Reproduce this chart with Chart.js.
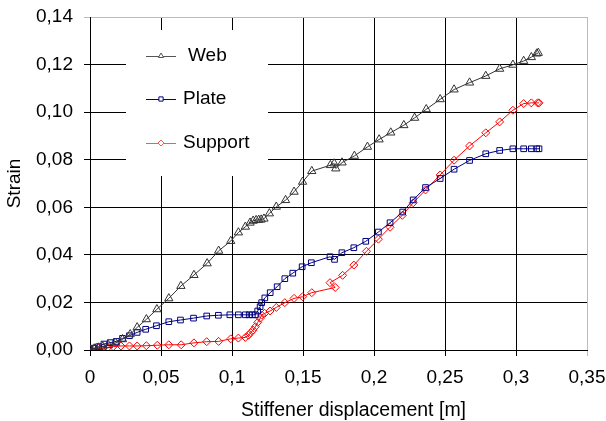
<!DOCTYPE html>
<html>
<head>
<meta charset="utf-8">
<script src="https://cdn.jsdelivr.net/npm/chart.js"></script>
<style>
html,body{margin:0;padding:0;background:#fff}
</style>
</head>
<body>
<canvas id="chart" width="606" height="421"></canvas>
<script>
// values
const webX = [0, 0.003, 0.006, 0.009, 0.013, 0.018, 0.0229, 0.0283, 0.0332, 0.0397, 0.0471, 0.0555, 0.064, 0.0732, 0.0825, 0.0906, 0.0991, 0.1045, 0.1094, 0.1127, 0.1149, 0.117, 0.1188, 0.1205, 0.1225, 0.1263, 0.1312, 0.1377, 0.1437, 0.1497, 0.1562, 0.1693, 0.172, 0.1731, 0.1775, 0.1862, 0.1954, 0.2036, 0.2118, 0.221, 0.2286, 0.2368, 0.2466, 0.2564, 0.2673, 0.2787, 0.2885, 0.2978, 0.3054, 0.3108, 0.3146, 0.3157]
const webY = [0.0003, 0.0006, 0.001, 0.0014, 0.002, 0.003, 0.0045, 0.0066, 0.0095, 0.0129, 0.0171, 0.0217, 0.0269, 0.0315, 0.0364, 0.0417, 0.0458, 0.0494, 0.0518, 0.0535, 0.0543, 0.0546, 0.0547, 0.0548, 0.0552, 0.0574, 0.0602, 0.063, 0.0665, 0.0707, 0.0752, 0.0777, 0.0784, 0.0763, 0.0788, 0.0816, 0.0854, 0.0885, 0.0914, 0.0945, 0.0976, 0.1012, 0.1054, 0.1095, 0.1124, 0.1152, 0.1182, 0.1199, 0.1215, 0.1231, 0.1246, 0.1249]

const plateX = [0, 0.003, 0.006, 0.0098, 0.0142, 0.0185, 0.0229, 0.0278, 0.0332, 0.0392, 0.0468, 0.0555, 0.0637, 0.0729, 0.0822, 0.0904, 0.0985, 0.1045, 0.1094, 0.1121, 0.1143, 0.1165, 0.1181, 0.1198, 0.1209, 0.1231, 0.1269, 0.1318, 0.1372, 0.1428, 0.1494, 0.1559, 0.169, 0.1722, 0.1774, 0.1858, 0.1942, 0.2031, 0.2113, 0.2202, 0.2276, 0.2363, 0.2466, 0.2564, 0.2673, 0.2787, 0.2885, 0.2978, 0.3054, 0.3108, 0.3146, 0.3162]
const plateY = [0.0004, 0.0008, 0.0014, 0.0025, 0.0031, 0.0036, 0.0049, 0.006, 0.0074, 0.0087, 0.0102, 0.0119, 0.0126, 0.0134, 0.0143, 0.0146, 0.0148, 0.0148, 0.0148, 0.0148, 0.0148, 0.0148, 0.0164, 0.0182, 0.0199, 0.0219, 0.0241, 0.0266, 0.03, 0.0323, 0.035, 0.0367, 0.0392, 0.0381, 0.0409, 0.043, 0.0457, 0.0496, 0.0535, 0.058, 0.0631, 0.0683, 0.0721, 0.076, 0.0797, 0.0825, 0.0839, 0.0846, 0.0846, 0.0846, 0.0846, 0.0846]

const supportX = [0, 0.003, 0.006, 0.009, 0.0125, 0.0163, 0.0218, 0.0278, 0.0332, 0.0397, 0.0474, 0.0555, 0.0642, 0.0732, 0.0822, 0.0906, 0.0991, 0.1045, 0.1094, 0.1116, 0.1132, 0.1149, 0.1165, 0.1181, 0.1198, 0.1209, 0.123, 0.1268, 0.1312, 0.1372, 0.1437, 0.1497, 0.1562, 0.1727, 0.169, 0.1779, 0.1858, 0.1947, 0.2031, 0.2113, 0.2199, 0.2276, 0.2363, 0.2466, 0.2564, 0.2673, 0.2787, 0.2885, 0.2978, 0.3054, 0.3108, 0.3152, 0.3162]
const supportY = [0.0002, 0.0004, 0.0006, 0.0008, 0.001, 0.0014, 0.0017, 0.0017, 0.0017, 0.0018, 0.002, 0.0022, 0.0022, 0.003, 0.0035, 0.0036, 0.0047, 0.005, 0.0053, 0.0062, 0.0073, 0.0084, 0.0098, 0.0116, 0.0133, 0.0147, 0.0154, 0.0164, 0.0179, 0.0199, 0.0217, 0.0224, 0.0241, 0.0263, 0.0283, 0.0314, 0.0357, 0.0415, 0.0466, 0.0516, 0.0566, 0.0619, 0.0673, 0.0736, 0.0798, 0.0858, 0.0913, 0.0959, 0.1008, 0.1036, 0.1039, 0.1039, 0.1039]

const seriesNames = ["Web", "Plate", "Support"]
const seriesColors = ["#333333", "#000080", "#ff0000"]
const seriesMarkers = ["triangle", "rect", "rectRot"]

const xTicks = [0, 0.05, 0.1, 0.15, 0.2, 0.25, 0.3, 0.35]
const yTicks = [0, 0.02, 0.04, 0.06, 0.08, 0.1, 0.12, 0.14]
const xTitle = "Stiffener displacement [m]"
const yTitle = "Strain"

const FONT = "'Liberation Sans', Arial, sans-serif"
Chart.defaults.font.family = FONT
Chart.defaults.color = "#000"

function pts(xs, ys){
  return xs.map((x,i)=>({x:x, y:ys[i]}))
}

const allData = [pts(webX,webY), pts(plateX,plateY), pts(supportX,supportY)]

// legend drawn inside the plot on a white box, x title drawn a bit right of centre like the original
const boxLegend = {
  id: "boxLegend",
  beforeDatasetsDraw(chart){
    const c = chart.ctx
    const a = chart.chartArea
    const bx = a.left + 36, by = a.top + 13
    c.save()
    c.fillStyle = "#fff"
    c.fillRect(bx, by, 142, 146)
    const legendColors = ["#555555", "#000080", "#ff5555"]
    const rows = [by + 26, by + 69, by + 113]
    seriesNames.forEach((name,i)=>{
      const y = rows[i]
      c.strokeStyle = legendColors[i]
      c.lineWidth = 1
      c.beginPath()
      c.moveTo(bx + 20, y + 0.5)
      c.lineTo(bx + 50, y + 0.5)
      c.stroke()
      c.fillStyle = "#fff"
      Chart.helpers.drawPoint(c, {pointStyle: seriesMarkers[i], radius: 3, borderWidth: 1}, bx + 35, y)
      c.fillStyle = "#000"
      c.font = "19px " + FONT
      c.textBaseline = "middle"
      c.textAlign = "left"
      c.fillText(name, bx + (i == 0 ? 62 : 57), y)
    })
    c.font = "19.5px " + FONT
    c.textAlign = "center"
    c.textBaseline = "middle"
    c.fillText(xTitle, (a.left + a.right) / 2 + 15, chart.height - 10)
    c.restore()
  }
}

function near(a, b){ return Math.abs(a - b) < 1e-6 }

new Chart(document.getElementById("chart"), {
  type: "line",
  data: {
    datasets: allData.map((d,i)=>({
      label: seriesNames[i],
      data: d,
      borderColor: seriesColors[i],
      borderWidth: 1,
      backgroundColor: "rgba(0,0,0,0)",
      pointStyle: seriesMarkers[i],
      pointRadius: i == 0 ? 4.8 : 4,
      pointBorderColor: seriesColors[i],
      pointBackgroundColor: "rgba(0,0,0,0)",
      pointBorderWidth: 1,
      tension: 0
    }))
  },
  options: {
    responsive: false,
    animation: false,
    layout: {padding: {top: 17, right: 19, left: 0, bottom: 0}},
    plugins: {legend: {display: false}, tooltip: {enabled: false}},
    scales: {
      x: {
        type: "linear",
        min: 0, max: 0.35,
        afterBuildTicks: s => { s.ticks = xTicks.map(v=>({value:v})) },
        afterFit: s => { s.height = 71; s.paddingLeft = 0; s.paddingRight = 0 },
        ticks: {
          font: {size: 19},
          padding: 10,
          maxRotation: 0,
          callback: v => String(parseFloat(v.toFixed(2))).replace(".", ",")
        },
        grid: {
          color: ctx => near(ctx.tick.value, 0.35) ? "#bbbbbb" : "#000",
          tickLength: 6
        },
        border: {color: "#000"},
        title: {display: false}
      },
      y: {
        min: 0, max: 0.14,
        afterBuildTicks: s => { s.ticks = yTicks.map(v=>({value:v})) },
        afterFit: s => { s.width = 90; s.paddingTop = 0; s.paddingBottom = 0 },
        ticks: {
          font: {size: 19},
          padding: 11,
          callback: v => v.toFixed(2).replace(".", ",")
        },
        grid: {
          color: ctx => near(ctx.tick.value, 0.14) ? "#bbbbbb" : "#000",
          tickLength: 6
        },
        border: {color: "#000"},
        title: {
          display: true,
          text: yTitle,
          font: {size: 19, lineHeight: 1},
          padding: {top: 5, bottom: 0}
        }
      }
    }
  },
  plugins: [boxLegend]
})
</script>
</body>
</html>
